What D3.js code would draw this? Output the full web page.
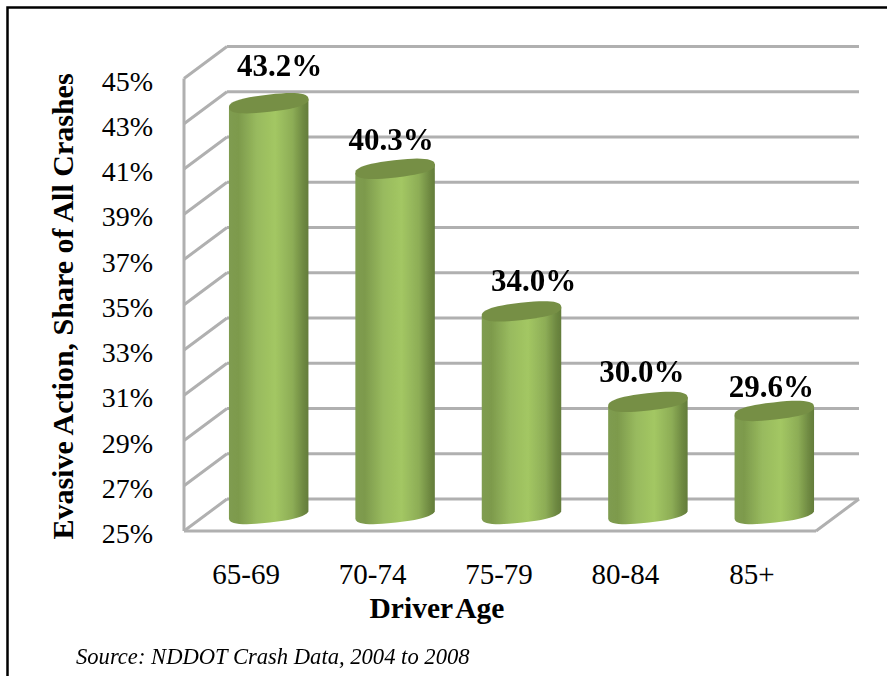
<!DOCTYPE html>
<html>
<head>
<meta charset="utf-8">
<style>
html, body { margin: 0; padding: 0; background: #fff; }
svg { display: block; }
text { font-family: "Liberation Serif", serif; fill: #000; }
</style>
<script src="https://cdn.jsdelivr.net/npm/d3@7"></script>
</head>
<body>
<div id="chart"></div>
<script>
var categories = ['65-69', '70-74', '75-79', '80-84', '85+'];
var shares = [43.2, 40.3, 34.0, 30.0, 29.6];
var shareLabels = ['43.2%', '40.3%', '34.0%', '30.0%', '29.6%'];
var tickValues = [25, 27, 29, 31, 33, 35, 37, 39, 41, 43, 45];

// labels don't sit evenly over the bars in the original
var labelNudgeX = [11, -4, 12, -6, -3];
var labelNudgeY = [-27, -19, -20, -20, -14];

var width = 887;
var height = 676;
var depthX = 43;
var depthY = 32;
var left = 184;
var right = 816;
var bottom = 531;
var top45 = 78.5;
var barRx = 40;
var barRy = 8.6;
var tilt = 6.5;

var svg = d3.select('#chart')
	.append('svg')
	.attr('width', width)
	.attr('height', height);

var defs = svg.append('defs');

defs.append('filter')
	.attr('id', 'soft')
	.attr('filterUnits', 'userSpaceOnUse')
	.attr('x', 0).attr('y', 0).attr('width', width).attr('height', height)
	.append('feGaussianBlur')
	.attr('stdDeviation', 0.6);

var grad = defs.append('linearGradient')
	.attr('id', 'barFill')
	.attr('x1', 0).attr('x2', 1).attr('y1', 0).attr('y2', 0);
[[0, '#7f9c50'], [0.12, '#7d9a4c'], [0.35, '#98ba5e'], [0.58, '#a3c763'], [0.8, '#8dad56'], [0.93, '#6f8a42'], [1, '#637c3a']]
	.forEach(function(s) {
		grad.append('stop').attr('offset', s[0]).attr('stop-color', s[1]);
	});

var x = d3.scaleBand()
	.domain(categories)
	.range([left, right])
	.paddingInner(0.367)
	.paddingOuter(0.1835);

// front edge of the floor/wall, used for the axis
var yFront = d3.scaleLinear()
	.domain([25, 45])
	.range([bottom, top45]);

var yBar = function(v) {return yFront(v) - depthY / 2;};
var yBack = function(v) {return yFront(v) - depthY;};

// walls and gridlines
var grid = svg.append('g')
	.attr('fill', 'none')
	.attr('stroke', '#b0b0b0')
	.attr('stroke-width', 3)
	.attr('filter', 'url(#soft)');

grid.selectAll('.back')
	.data(tickValues)
	.enter().append('line')
	.attr('x1', left + depthX)
	.attr('x2', right + depthX)
	.attr('y1', function(d) {return yBack(d);})
	.attr('y2', function(d) {return yBack(d);});

grid.selectAll('.side')
	.data(tickValues)
	.enter().append('line')
	.attr('x1', left)
	.attr('x2', left + depthX)
	.attr('y1', function(d) {return yFront(d);})
	.attr('y2', function(d) {return yBack(d);});

grid.append('line')
	.attr('x1', left).attr('x2', left)
	.attr('y1', yFront(45)).attr('y2', yFront(25));

grid.append('line')
	.attr('x1', left).attr('x2', right)
	.attr('y1', yFront(25)).attr('y2', yFront(25));

grid.append('line')
	.attr('x1', right).attr('x2', right + depthX)
	.attr('y1', yFront(25)).attr('y2', yBack(25));

// cylinder caps are a bit squarer than a true ellipse, so trace them
var capPoint = function(a, cy) {
	var c = Math.cos(a);
	var s = Math.sin(a);
	var px = barRx * (c < 0 ? -1 : 1) * Math.pow(Math.abs(c), 0.8);
	var py = barRy * (s < 0 ? -1 : 1) * Math.pow(Math.abs(s), 0.8);
	var r = -tilt * Math.PI / 180;
	return [px * Math.cos(r) - py * Math.sin(r), cy + px * Math.sin(r) + py * Math.cos(r)];
};

var capAngles = d3.range(0, 2 * Math.PI + 0.01, Math.PI / 24);
var lowerAngles = d3.range(Math.PI, -0.01, -Math.PI / 24);
var capLine = d3.line();

var bars = svg.append('g')
	.attr('filter', 'url(#soft)')
	.selectAll('g')
	.data(categories)
	.enter().append('g')
	.attr('transform', function(d) {
		return 'translate(' + (x(d) + x.bandwidth() / 2 + depthX / 2) + ',0)';
	});

bars.append('path')
	.attr('fill', 'url(#barFill)')
	.attr('d', function(d, i) {
		var t = yBar(shares[i]);
		var b = yBar(25) - 1;
		var lower = lowerAngles.map(function(a) {return capPoint(a, b);});
		var topEdge = [capPoint(0, t), capPoint(Math.PI, t)];
		return capLine(lower.concat(topEdge)) + 'Z';
	});

bars.append('path')
	.attr('fill', '#768f45')
	.attr('d', function(d, i) {
		return capLine(capAngles.map(function(a) {return capPoint(a, yBar(shares[i]));})) + 'Z';
	});

// value labels
svg.append('g')
	.selectAll('text')
	.data(shareLabels)
	.enter().append('text')
	.attr('x', function(d, i) {
		return x(categories[i]) + x.bandwidth() / 2 + depthX / 2 + labelNudgeX[i];
	})
	.attr('y', function(d, i) {return yBar(shares[i]) + labelNudgeY[i];})
	.attr('text-anchor', 'middle')
	.attr('font-size', 31)
	.attr('font-weight', 'bold')
	.text(function(d) {return d;});

// axes
var yAxis = d3.axisLeft(yFront)
	.tickValues(tickValues)
	.tickSize(0)
	.tickPadding(31)
	.tickFormat(function(d) {return d + '%';});

var gy = svg.append('g')
	.attr('transform', 'translate(' + left + ',0)')
	.call(yAxis);
gy.select('.domain').remove();
gy.selectAll('text')
	.attr('font-size', 28)
	.style('font-family', '"Liberation Serif", serif')
	.attr('dy', '11.5px');

var xAxis = d3.axisBottom(x)
	.tickSize(0)
	.tickPadding(32);

var gx = svg.append('g')
	.attr('transform', 'translate(' + (-1) + ',' + bottom + ')')
	.call(xAxis);
gx.select('.domain').remove();
gx.selectAll('text')
	.attr('font-size', 29)
	.style('font-family', '"Liberation Serif", serif');

// titles
svg.append('text')
	.attr('x', 437)
	.attr('y', 617.5)
	.attr('text-anchor', 'middle')
	.attr('font-size', 29.5)
	.attr('font-weight', 'bold')
	.attr('word-spacing', -3)
	.text('Driver Age');

svg.append('text')
	.attr('transform', 'translate(72.5,306.5) rotate(-90)')
	.attr('text-anchor', 'middle')
	.attr('font-size', 30)
	.attr('font-weight', 'bold')
	.text('Evasive Action, Share of All Crashes');

svg.append('text')
	.attr('x', 76)
	.attr('y', 664)
	.attr('font-size', 22.6)
	.attr('font-style', 'italic')
	.text('Source: NDDOT Crash Data, 2004 to 2008');

// page frame, only top and left show
svg.append('path')
	.attr('fill', 'none')
	.attr('stroke', '#000')
	.attr('stroke-width', 2.5)
	.attr('d', 'M' + width + ',7.5H7.5V' + height);
</script>
</body>
</html>
